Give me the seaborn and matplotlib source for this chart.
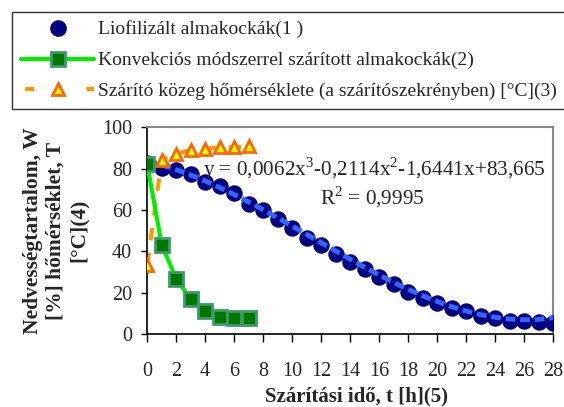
import numpy as np
import pandas as pd
import matplotlib
matplotlib.use("Agg")
import matplotlib.pyplot as plt
import seaborn as sns

# lyophilized apple cubes, hourly
liof_t = list(range(0, 29))
liof_w = [83.0, 80.6, 79.4, 77.4, 73.8, 71.7, 68.2, 62.9, 60.2, 55.5,
          51.5, 46.7, 43.0, 38.8, 35.0, 31.3, 27.8, 24.2, 20.5, 17.7,
          14.9, 12.5, 11.2, 8.8, 7.7, 6.6, 6.6, 6.1, 5.6]

# convective dried apple cubes
konv_t = [0, 1, 2, 3, 4, 5, 6, 7]
konv_w = [82.2, 43.3, 26.8, 16.9, 11.2, 8.5, 8.0, 8.0]

# drying medium temperature
temp_t = [0, 1, 2, 3, 4, 5, 6, 7]
temp_c = [33.4, 84.2, 87.3, 88.9, 89.6, 90.3, 90.4, 90.8]

# trendline coefficients shown on chart
trend_coef = [0.0062, -0.2114, -1.6441, 83.665]
trend_label = "y = 0,0062x$^3$-0,2114x$^2$-1,6441x+83,665"
r2_label = "R$^2$ = 0,9995"

x_ticks = list(range(0, 29, 2))
y_ticks = [0, 20, 40, 60, 80, 100]

labels = ["Liofilizált almakockák(1 )",
          "Konvekciós módszerrel szárított almakockák(2)",
          "Szárító közeg hőmérséklete (a szárítószekrényben) [°C](3)"]

sns.set_style("white")
plt.rcParams["font.family"] = ["Liberation Serif", "DejaVu Serif"]
plt.rcParams["mathtext.fontset"] = "custom"
plt.rcParams["mathtext.rm"] = "Liberation Serif"

fig = plt.figure(figsize=(5.64, 4.07), dpi=100)
ax = fig.add_axes([0.261, 0.179, 0.7195, 0.508])

df_l = pd.DataFrame({"t": liof_t, "w": liof_w})
df_k = pd.DataFrame({"t": konv_t, "w": konv_w})
df_h = pd.DataFrame({"t": temp_t, "w": temp_c})

sns.scatterplot(data=df_l, x="t", y="w", ax=ax, color="#000080", s=140,
                edgecolor="#000080", linewidth=0, zorder=3)
tt = np.linspace(0, 28, 200)
ax.plot(tt, np.polyval(trend_coef, tt), color="#3366FF", lw=3.5,
        ls=(0, (2, 1)), zorder=4)

sns.lineplot(data=df_h, x="t", y="w", ax=ax, color="#FF9900", lw=3,
             dashes=False, zorder=2)
ax.lines[-1].set_linestyle((0, (3, 3)))
ax.plot(temp_t, temp_c, ls="none", marker="^", ms=9, mfc="#FFFF00",
        mec="#FF6600", mew=2, zorder=5)

sns.lineplot(data=df_k, x="t", y="w", ax=ax, color="#00EE00", lw=3, zorder=5)
ax.plot(konv_t, konv_w, ls="none", marker="s", ms=10.5, mfc="#007700",
        mec="#3C9A6A", mew=2, zorder=6)

ax.set_xlim(0, 28)
ax.set_ylim(0, 100)
ax.set_xticks(x_ticks)
ax.set_yticks(y_ticks)
ax.tick_params(axis="both", direction="out", width=1, labelsize=14.5,
               color="black", bottom=True, left=True)
ax.tick_params(axis="x", length=6, pad=14)
ax.tick_params(axis="y", length=4, pad=7)
for s in ["left", "bottom"]:
    ax.spines[s].set_color("black")
    ax.spines[s].set_linewidth(1.2)
for s in ["top", "right"]:
    ax.spines[s].set_color("#888888")
    ax.spines[s].set_linewidth(1.5)

ax.set_xlabel("Szárítási idő, t [h](5)", fontsize=15, fontweight="bold")
ax.xaxis.set_label_coords(0.515, -0.30)
ax.xaxis.label.set_va("center")
ax.set_ylabel("Nedvességtartalom, W\n[%] hőmérséklet, T\n[°C](4)", fontsize=15.5,
              fontweight="bold", linespacing=1.2)
ax.yaxis.set_label_coords(-0.225, 0.5)
ax.yaxis.label.set_va("center")

ax.text(0.138, 0.80, trend_label, transform=ax.transAxes, fontsize=15.3,
        ha="left", va="center")
ax.text(0.554, 0.66, r2_label, transform=ax.transAxes, fontsize=15.3,
        ha="center", va="center")

h1 = plt.Line2D([], [], ls="none", marker="o", ms=11, color="#000080")
h2 = plt.Line2D([], [], color="#00EE00", lw=3, marker="s", ms=10,
                mfc="#007700", mec="#3C9A6A", mew=2)
h3 = plt.Line2D([], [], color="#FF9900", lw=3, ls=(13.7, (2.2, 12.5)), marker="^",
                ms=8, mfc="#FFFF00", mec="#FF6600", mew=2)
leg = fig.legend([h1, h2, h3], labels, loc="upper left",
                 bbox_to_anchor=(0.022, 0.971), fontsize=14, frameon=True,
                 fancybox=False, edgecolor="black", handlelength=3.75,
                 handletextpad=0.2, borderpad=0.45, labelspacing=0.68,
                 borderaxespad=0)
leg.get_frame().set_linewidth(1)

fig.savefig("out.png", dpi=100)
